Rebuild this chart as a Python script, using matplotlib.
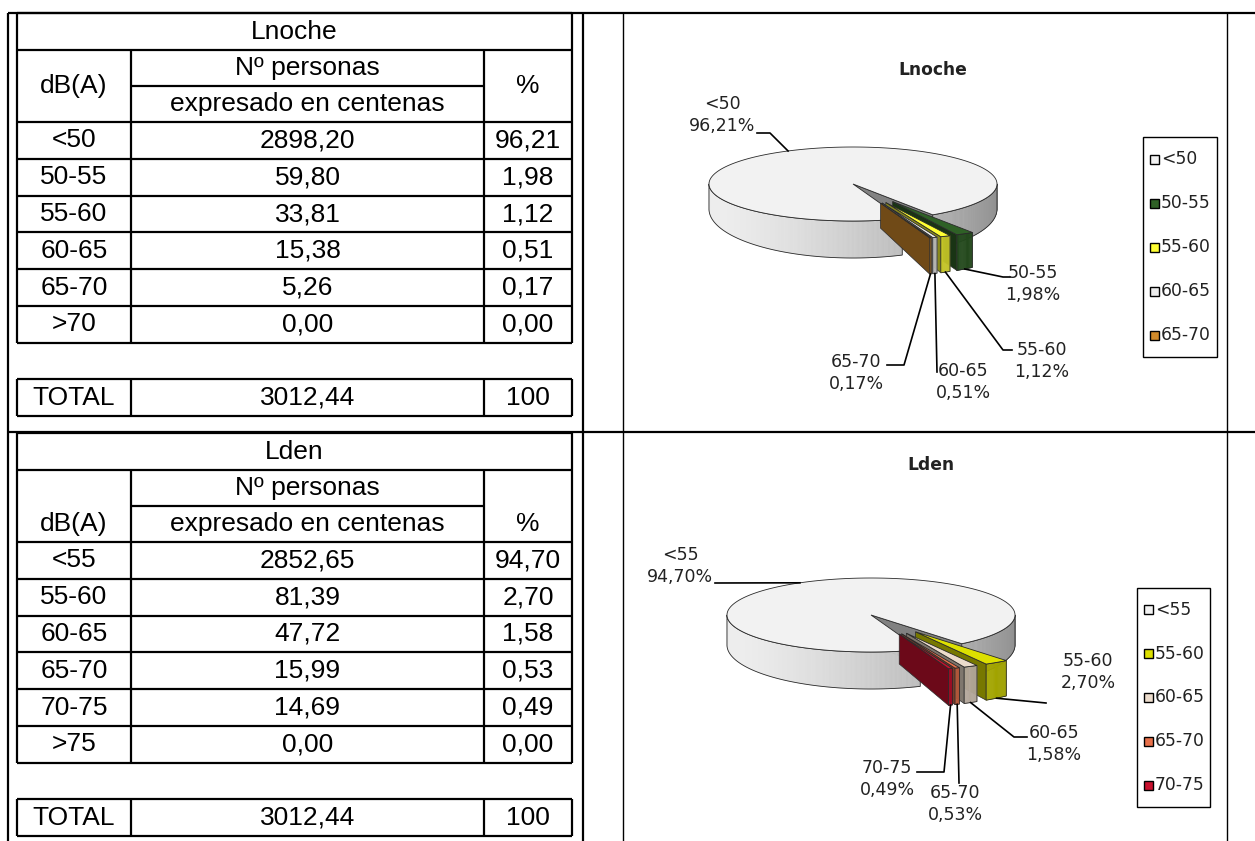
import numpy as np
import matplotlib.pyplot as plt
from matplotlib.patches import Polygon, Rectangle
from matplotlib.colors import to_rgb

# Lnoche table
noche_bands = ['<50', '50-55', '55-60', '60-65', '65-70', '>70']
noche_people = [2898.20, 59.80, 33.81, 15.38, 5.26, 0.00]
noche_pct = [96.21, 1.98, 1.12, 0.51, 0.17, 0.00]
noche_total = 3012.44
noche_colors = ['#f2f2f2', '#2f6126', '#ffff33', '#ececec', '#d08a2a']

# Lden table
den_bands = ['<55', '55-60', '60-65', '65-70', '70-75', '>75']
den_people = [2852.65, 81.39, 47.72, 15.99, 14.69, 0.00]
den_pct = [94.70, 2.70, 1.58, 0.53, 0.49, 0.00]
den_total = 3012.44
den_colors = ['#f2f2f2', '#dde000', '#ecdccc', '#e8704a', '#c8102e']

W, H = 1255, 841
TFONT = 'Liberation Sans'
CFONT = 'DejaVu Sans'


def fmt(v):
    return f"{v:.2f}".replace('.', ',')


def hline(ax, y, x0, x1, lw=1.6):
    ax.plot([x0, x1], [y, y], color='black', lw=lw, solid_capstyle='butt', zorder=3)


def vline(ax, x, y0, y1, lw=1.6):
    ax.plot([x, x], [y0, y1], color='black', lw=lw, solid_capstyle='butt', zorder=3)


def draw_table(ax, top, title, bands, people, pct, total, merged_head):
    L, c1, c2, R = 17, 131, 484, 572
    y_title = top + 37
    y_sub = y_title + 36
    y_head = y_sub + 36
    rows = y_head + 36.8 * np.arange(len(bands) + 1)
    # main box
    for y in [top, y_title]:
        hline(ax, y, L, R)
    for y in rows:
        hline(ax, y, L, R)
    hline(ax, y_sub, c1, c2)
    vline(ax, L, top, rows[-1])
    vline(ax, R, top, rows[-1])
    vline(ax, c1, y_title, rows[-1])
    vline(ax, c2, y_title, rows[-1])

    kw = dict(fontsize=19, family=TFONT, va='center')
    ax.text((L + R) / 2, (top + y_title) / 2, title, ha='center', **kw)
    ax.text((c1 + c2) / 2, (y_title + y_sub) / 2, 'Nº personas', ha='center', **kw)
    ax.text((c1 + c2) / 2, (y_sub + y_head) / 2, 'expresado en centenas', ha='center', **kw)
    yh = (y_title + y_head) / 2 if merged_head else (y_sub + y_head) / 2
    ax.text((L + c1) / 2, yh, 'dB(A)', ha='center', **kw)
    ax.text((c2 + R) / 2, yh, '%', ha='center', **kw)
    for i, band in enumerate(bands):
        yc = (rows[i] + rows[i + 1]) / 2
        ax.text((L + c1) / 2, yc, band, ha='center', **kw)
        ax.text((c1 + c2) / 2, yc, fmt(people[i]), ha='center', **kw)
        ax.text((c2 + R) / 2, yc, fmt(pct[i]), ha='center', **kw)

    # total row
    t0 = rows[-1] + 36.5
    t1 = t0 + 36.5
    hline(ax, t0, L, R)
    hline(ax, t1, L, R)
    for x in [L, c1, c2, R]:
        vline(ax, x, t0, t1)
    yc = (t0 + t1) / 2
    ax.text((L + c1) / 2, yc, 'TOTAL', ha='center', **kw)
    ax.text((c1 + c2) / 2, yc, fmt(total), ha='center', **kw)
    ax.text((c2 + R) / 2, yc, '100', ha='center', **kw)


def shade(c, f):
    r, g, b = to_rgb(c)
    return (min(r * f, 1), min(g * f, 1), min(b * f, 1))


def light(n_deg):
    return 0.78 + 0.2 * np.cos(np.radians(n_deg - 200))


def pie3d(ax, values, colors, cx, cy, rx, ry, d0, flare, start, explode, edge='#2a2a2a'):
    vals = np.asarray(values, float)
    spans = vals / vals.sum() * 360
    t_hi = start - np.concatenate([[0], np.cumsum(spans)[:-1]])
    t_lo = t_hi - spans
    mid = (t_hi + t_lo) / 2
    order = sorted(range(len(vals)), key=lambda i: (explode[i], -np.sin(np.radians(mid[i]))))
    anchors = {}
    z = 5
    for i in order:
        m = np.radians(mid[i])
        x0 = cx + explode[i] * rx * np.cos(m)
        y0 = cy - explode[i] * ry * np.sin(m)

        def top(t):
            t = np.radians(t)
            return x0 + rx * np.cos(t), y0 - ry * np.sin(t)

        def bot(t):
            t = np.radians(t)
            return x0 + rx * np.cos(t), y0 + d0 - (ry + flare) * np.sin(t)

        col = colors[i]
        # cut faces towards the viewer
        for t, n, vis in [(t_lo[i], t_lo[i] - 90, np.cos(np.radians(t_lo[i])) > 0),
                          (t_hi[i], t_hi[i] + 90, np.cos(np.radians(t_hi[i])) < 0)]:
            if vis:
                pts = [(x0, y0), top(t), bot(t), (x0, y0 + d0)]
                ax.add_patch(Polygon(pts, closed=True, fc=shade(col, 0.55 * light(n)),
                                     ec=edge, lw=0.5, zorder=z))
                z += 0.01
        # outer wall, front half only
        ts = np.linspace(t_lo[i], t_hi[i], max(int(spans[i] * 2), 2) + 1)
        seg = []
        segs = []
        for a, b in zip(ts[:-1], ts[1:]):
            mm = (a + b) / 2
            if np.sin(np.radians(mm)) >= 0:
                if seg:
                    segs.append(seg)
                    seg = []
                continue
            xa, ya = top(a)
            xb, yb = top(b)
            xc, yc = bot(b)
            xd, yd = bot(a)
            fc = shade(col, light(mm))
            ax.add_patch(Polygon([(xa, ya), (xb, yb), (xc, yc), (xd, yd)], closed=True,
                                 fc=fc, ec=fc, lw=0.4, zorder=z))
            if not seg:
                seg.append(a)
            seg.append(b)
        if seg:
            segs.append(seg)
        z += 0.01
        for s in segs:
            s = np.array(s)
            xt, yt = top(s)
            xb, yb = bot(s)
            ax.add_patch(Polygon(np.column_stack([np.r_[xt, xb[::-1]], np.r_[yt, yb[::-1]]]),
                                 closed=True, fill=False, ec=edge, lw=0.6, zorder=z))
        z += 0.01
        # top face
        tt = np.linspace(t_lo[i], t_hi[i], max(int(spans[i] * 2), 2) + 1)
        xs, ys = top(tt)
        ax.add_patch(Polygon(np.column_stack([np.r_[x0, xs], np.r_[y0, ys]]), closed=True,
                             fc=col, ec=edge, lw=0.6, zorder=z))
        z += 0.01
        if explode[i] > 0:
            anchors[i] = bot(mid[i])
        else:
            anchors[i] = top(mid[i])
    return anchors


def pie_labels(ax, anchors, bands, pct, spots):
    for i, (tx, ty, path) in spots.items():
        pts = [anchors[i]] + path
        ax.plot([p[0] for p in pts], [p[1] for p in pts], color='black', lw=1.2, zorder=8)
        ax.text(tx, ty, f"{bands[i]}\n{fmt(pct[i])}%", ha='center', va='center',
                fontsize=12.5, family=CFONT, color='#222222', linespacing=1.25, zorder=9)


def legend_box(ax, x0, y0, x1, y1, bands, colors):
    ax.add_patch(Rectangle((x0, y0), x1 - x0, y1 - y0, fill=False, ec='black', lw=1.0, zorder=6))
    step = (y1 - y0) / len(bands)
    for k, (b, c) in enumerate(zip(bands, colors)):
        yc = y0 + step * (k + 0.5)
        ax.add_patch(Rectangle((x0 + 7, yc - 4.5), 9, 9, fc=c, ec='black', lw=1.0, zorder=7))
        ax.text(x0 + 18, yc, b, ha='left', va='center', fontsize=12.3, family=CFONT,
                color='#222222', zorder=7)


fig = plt.figure(figsize=(W / 100, H / 100), dpi=100)
ax = fig.add_axes([0, 0, 1, 1])
ax.set_xlim(0, W)
ax.set_ylim(H, 0)
ax.axis('off')

# page grid lines
hline(ax, 13, 8, W)
hline(ax, 432, 8, W)
for x in [8, 583]:
    vline(ax, x, 13, H)
for x in [623, 1227]:
    vline(ax, x, 13, H, lw=1.0)

draw_table(ax, 13, 'Lnoche', noche_bands, noche_people, noche_pct, noche_total, True)
draw_table(ax, 433, 'Lden', den_bands, den_people, den_pct, den_total, False)

# Lnoche pie
ax.text(933, 70, 'Lnoche', ha='center', va='center', fontsize=12.3, family=CFONT,
        weight='bold', color='#222222')
n_vals = noche_pct[:5]
anc = pie3d(ax, n_vals, noche_colors, 853, 184, 144, 37, 25, 12, 290,
            [0, 0.55, 0.55, 0.55, 0.55])
pie_labels(ax, anc, noche_bands, noche_pct, {
    0: (722, 115, [(770, 133), (757, 133)]),
    1: (1033, 284, [(1003, 277), (1010, 277)]),
    2: (1042, 361, [(1003, 350), (1012, 350)]),
    3: (963, 382, [(937, 372)]),
    4: (856, 373, [(904, 365), (887, 365)]),
})
legend_box(ax, 1143, 137, 1217, 357, noche_bands[:5], noche_colors)

# Lden pie
ax.text(931, 465, 'Lden', ha='center', va='center', fontsize=12.3, family=CFONT,
        weight='bold', color='#222222')
d_vals = den_pct[:5]
anc = pie3d(ax, d_vals, den_colors, 871, 615, 144, 37, 30, 7, 290,
            [0, 0.55, 0.55, 0.55, 0.55])
pie_labels(ax, anc, den_bands, den_pct, {
    0: (680, 566, [(715, 583)]),
    1: (1088, 672, [(1046, 703)]),
    2: (1054, 744, [(1014, 737), (1027, 737)]),
    3: (955, 804, [(959, 783)]),
    4: (887, 779, [(944, 772), (917, 772)]),
})
legend_box(ax, 1137, 588, 1210, 807, den_bands[:5], den_colors)

fig.savefig('out.png', dpi=100)
